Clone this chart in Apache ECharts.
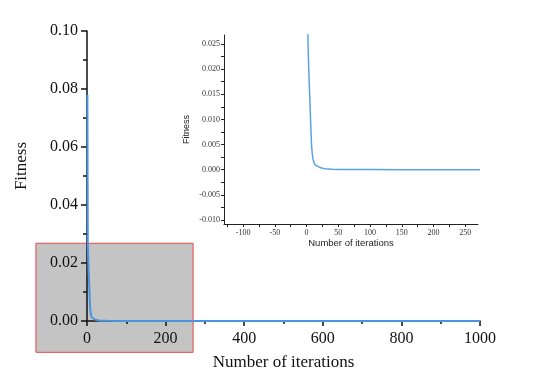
<!DOCTYPE html>
<html lang="en">
<head>
<meta charset="UTF-8">
<title>Fitness convergence</title>
<script src="https://cdn.jsdelivr.net/npm/echarts@6/dist/echarts.min.js"></script>
<style>
  html, body { margin: 0; padding: 0; background: #fff; }
  #chart { width: 544px; height: 388px; }
</style>
</head>
<body>
<div id="chart"></div>
<script>
// iteration number and fitness
var iterations = [1, 2, 3, 4, 5, 6, 7, 8, 9, 10, 12, 14, 16, 20, 25, 30, 40, 50, 75, 100, 150, 200, 300, 500, 1000];
var fitness = [0.078, 0.027, 0.022, 0.018, 0.0145, 0.011, 0.0075, 0.0046, 0.0032, 0.0022, 0.0013, 0.0009,
               0.0007, 0.0005, 0.0003, 0.0002, 0.0001, 0.00006, 0.00003, 0.00002, 0.00001, 0.000005,
               0.000003, 0.000001, 0];

// zoom window shown in the inset (also the grey box on the main plot)
var zoomX = [-130, 270];
var zoomY = [-0.0108, 0.0268];

var insetXLabels = [-100, -50, 0, 50, 100, 150, 200, 250];
var insetXTicks = [-125, -100, -75, -50, -25, 0, 25, 50, 75, 100, 125, 150, 175, 200, 225, 250];
var insetYLabels = [-0.010, -0.005, 0, 0.005, 0.010, 0.015, 0.020, 0.025];
var insetYTicks = [-0.010, -0.0075, -0.005, -0.0025, 0, 0.0025, 0.005, 0.0075, 0.010, 0.0125, 0.015, 0.0175, 0.020, 0.0225, 0.025];

var points = iterations.map(function (x, i) { return [x, fitness[i]]; });

var serif = '"Liberation Serif", "Times New Roman", serif';
var sans = '"Liberation Sans", Arial, sans-serif';

var chart = echarts.init(document.getElementById('chart'));

var option = {
    animation: false,
    grid: [
        { left: 87, right: 64, top: 31, bottom: 67 },
        { left: 224, right: 66, top: 35, bottom: 164 }
    ],
    xAxis: [{
        gridIndex: 0,
        type: 'value',
        min: 0, max: 1000, interval: 200,
        name: 'Number of iterations',
        nameLocation: 'middle',
        nameGap: 33,
        nameTextStyle: { fontFamily: serif, fontSize: 17, color: '#111' },
        axisLine: { lineStyle: { color: '#111', width: 1.5 } },
        axisTick: { length: 5, lineStyle: { color: '#111', width: 1.5 } },
        minorTick: { show: true, splitNumber: 2, length: 3, lineStyle: { color: '#111', width: 1.5 } },
        axisLabel: {
            fontFamily: serif, fontSize: 16, color: '#111', margin: 10,
            formatter: function (v) { return String(v); }
        },
        splitLine: { show: false },
        z: 5
    }, {
        gridIndex: 1,
        type: 'value',
        min: zoomX[0], max: zoomX[1],
        name: 'Number of iterations',
        nameLocation: 'middle',
        nameGap: 12,
        nameTextStyle: { fontFamily: sans, fontSize: 9.5, color: '#222' },
        axisLine: { onZero: false, lineStyle: { color: '#222', width: 1 } },
        axisTick: { length: 3, customValues: insetXTicks, lineStyle: { color: '#222' } },
        axisLabel: { customValues: insetXLabels, fontFamily: serif, fontSize: 8, color: '#333', margin: 5 },
        splitLine: { show: false }
    }],
    yAxis: [{
        gridIndex: 0,
        type: 'value',
        min: 0, max: 0.1, interval: 0.02,
        name: 'Fitness',
        nameLocation: 'middle',
        nameGap: 57,
        nameTextStyle: { fontFamily: serif, fontSize: 17, color: '#111', padding: [0, 0, 0, 20] },
        axisLine: { show: true, lineStyle: { color: '#111', width: 1.5 } },
        axisTick: { show: true, length: 6, lineStyle: { color: '#111', width: 1.5 } },
        minorTick: { show: true, splitNumber: 2, length: 4, lineStyle: { color: '#111', width: 1.5 } },
        axisLabel: {
            fontFamily: serif, fontSize: 16, color: '#111', margin: 9,
            formatter: function (v) { return v.toFixed(2); }
        },
        splitLine: { show: false },
        z: 5
    }, {
        gridIndex: 1,
        type: 'value',
        min: zoomY[0], max: zoomY[1],
        name: 'Fitness',
        nameLocation: 'middle',
        nameGap: 33,
        nameTextStyle: { fontFamily: sans, fontSize: 9, color: '#222' },
        axisLine: { show: true, onZero: false, lineStyle: { color: '#222', width: 1 } },
        axisTick: { show: true, length: 3, customValues: insetYTicks, lineStyle: { color: '#222' } },
        axisLabel: {
            customValues: insetYLabels, fontFamily: serif, fontSize: 8, color: '#333', margin: 4,
            formatter: function (v) { return v.toFixed(3); }
        },
        splitLine: { show: false }
    }],
    series: [{
        // grey zoom box on the main plot
        type: 'custom',
        xAxisIndex: 0, yAxisIndex: 0,
        clip: false,
        z: 1,
        silent: true,
        data: [[zoomX[0], zoomY[1], zoomX[1], zoomY[0]]],
        renderItem: function (params, api) {
            var p0 = api.coord([api.value(0), api.value(1)]);
            var p1 = api.coord([api.value(2), api.value(3)]);
            return {
                type: 'rect',
                shape: { x: p0[0], y: p0[1], width: p1[0] - p0[0], height: p1[1] - p0[1] },
                style: { fill: '#c4c4c4', stroke: '#e8464a', lineWidth: 1 }
            };
        }
    }, {
        type: 'line',
        xAxisIndex: 0, yAxisIndex: 0,
        data: points,
        showSymbol: false,
        z: 6,
        lineStyle: { color: '#4a94e0', width: 2 }
    }, {
        type: 'line',
        xAxisIndex: 1, yAxisIndex: 1,
        data: points,
        showSymbol: false,
        lineStyle: { color: '#5aa2e8', width: 1.5 }
    }]
};

chart.setOption(option);
</script>
</body>
</html>
